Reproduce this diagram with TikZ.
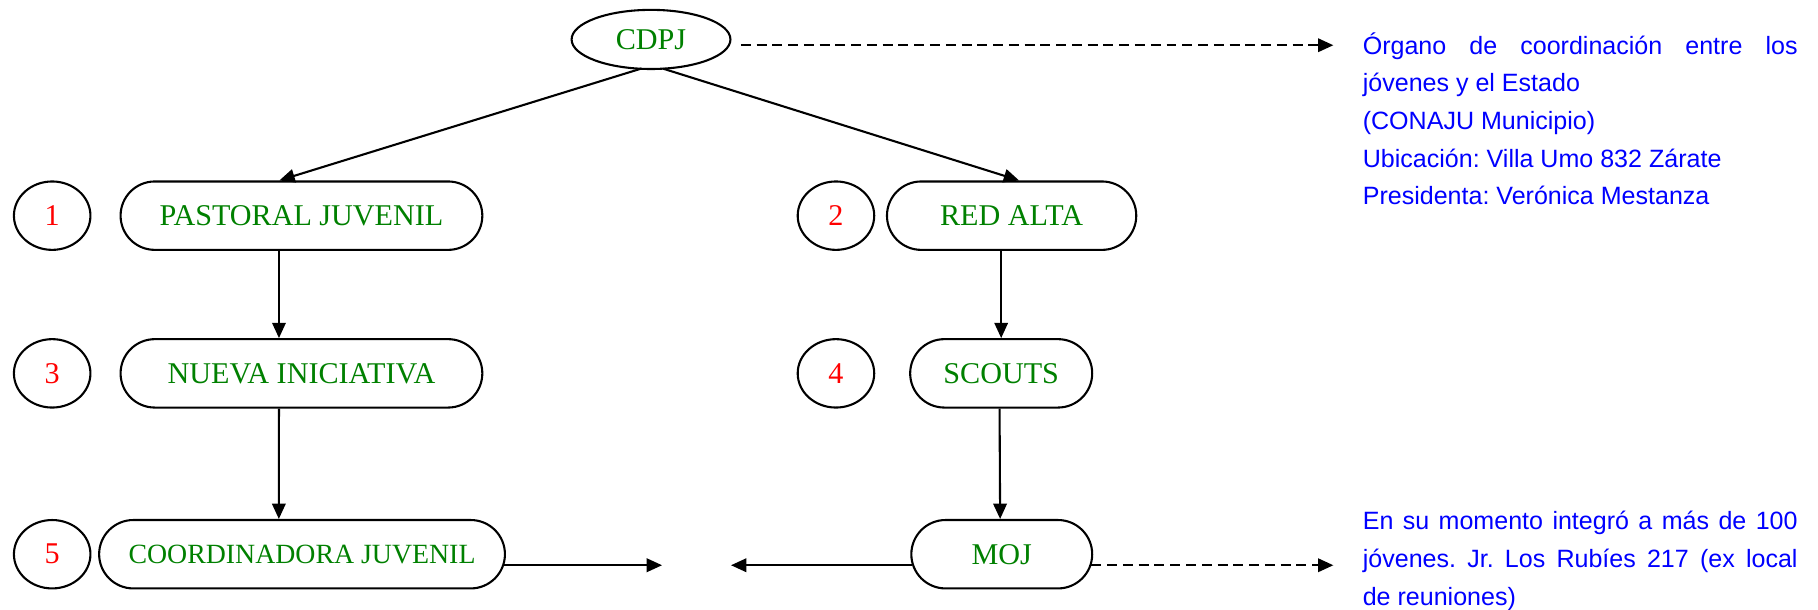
\documentclass[tikz,border=0pt]{standalone}
\usepackage{fontspec}
\setmainfont{Liberation Serif}
\setsansfont{Liberation Sans}
\usetikzlibrary{arrows.meta,shapes.geometric,shapes.misc}
\definecolor{boxgreen}{RGB}{0,128,0}
\definecolor{numred}{RGB}{255,0,0}
\definecolor{noteblue}{RGB}{0,0,255}
\tikzset{
  line/.style={line width=0.9pt,-{Triangle[length=6.6pt,width=5.8pt]}},
  dline/.style={line width=0.9pt,dash pattern=on 4.3pt off 2.5pt,-{Triangle[length=6.6pt,width=5.8pt]}},
  pill/.style={draw,line width=0.9pt,rounded rectangle,minimum height=29.5pt,inner sep=0pt,
    font=\fontsize{13}{15}\selectfont,text=boxgreen},
  numcirc/.style={draw,line width=0.9pt,ellipse,minimum width=33pt,minimum height=29.5pt,inner sep=0pt,
    font=\fontsize{13}{15}\selectfont,text=numred},
  note/.style={anchor=base west,inner sep=0pt,text width=187.5pt,align=justify,
    font=\sffamily\frenchspacing\fontsize{10.8}{16.25}\selectfont,text=noteblue}
}
\begin{document}
\begin{tikzpicture}[x=0.5pt,y=-0.5pt]
\useasboundingbox (0,0) rectangle (1568,526);
% top
\node[draw,line width=0.9pt,ellipse,minimum width=68.5pt,minimum height=25.5pt,inner sep=0pt,
  font=\fontsize{13}{15}\selectfont,text=boxgreen] (cdpj) at (561.5,34) {\raisebox{-1.5pt}{CDPJ}};
% left column
\node[numcirc] (n1) at (45,186) {1};
\node[numcirc] (n3) at (45,322) {3};
\node[numcirc] (n5) at (45,478) {5};
\node[pill,minimum width=156pt] (pj) at (260,186) {PASTORAL JUVENIL};
\node[pill,minimum width=156pt] (ni) at (260,322) {NUEVA INICIATIVA};
\node[pill,minimum width=175pt,font=\fontsize{12}{14}\selectfont] (cj) at (260.5,478) {COORDINADORA JUVENIL};
% right column
\node[numcirc] (n2) at (721,186) {2};
\node[numcirc] (n4) at (721,322) {4};
\node[pill,minimum width=107.5pt] (ra) at (872.5,186) {RED ALTA};
\node[pill,minimum width=78.5pt] (sc) at (863.5,322) {SCOUTS};
\node[pill,minimum width=78pt] (moj) at (864,478) {MOJ};
% notes
\node[note] (note1) at (1175,46.6) {Órgano de coordinación entre los\linebreak jóvenes y el Estado\\(CONAJU Municipio)\\Ubicación: Villa Umo 832 Zárate\\Presidenta: Verónica Mestanza};
\node[note] (note2) at (1175,457) {En su momento integró a más de 100\linebreak jóvenes. Jr. Los Rubíes 217 (ex local\linebreak de reuniones)};
% free ends
\coordinate (cjend) at (571,487.5);
\coordinate (mojend) at (630.5,487.5);
\coordinate (topend) at (1150,39);
\coordinate (botend) at (1150,487.5);
% connectors
\draw[line] ([xshift=-4.3pt,yshift=0.6pt]cdpj.south) -- ([xshift=-9.5pt]pj.north);
\draw[line] ([xshift=5.2pt,yshift=0.6pt]cdpj.south) -- ([xshift=3.2pt]ra.north);
\draw[line] ([xshift=-9.7pt]pj.south) -- ([xshift=-9.7pt]ni.north);
\draw[line] ([xshift=-9.7pt]ni.south) -- ([xshift=-10pt]cj.north);
\draw[line] (sc.north |- ra.south) -- (sc.north);
\draw[line] ([xshift=-0.7pt]sc.south) -- ([xshift=-0.7pt]moj.north);
\draw[line] ([xshift=-0.8pt]cjend -| cj.east) -- (cjend);
\draw[line] ([xshift=0.8pt]mojend -| moj.west) -- (mojend);
\draw[dline] ([xshift=-0.8pt]botend -| moj.east) -- (botend);
\draw[dline] ([xshift=4pt]topend -| cdpj.east) -- (topend);
\end{tikzpicture}
\end{document}
